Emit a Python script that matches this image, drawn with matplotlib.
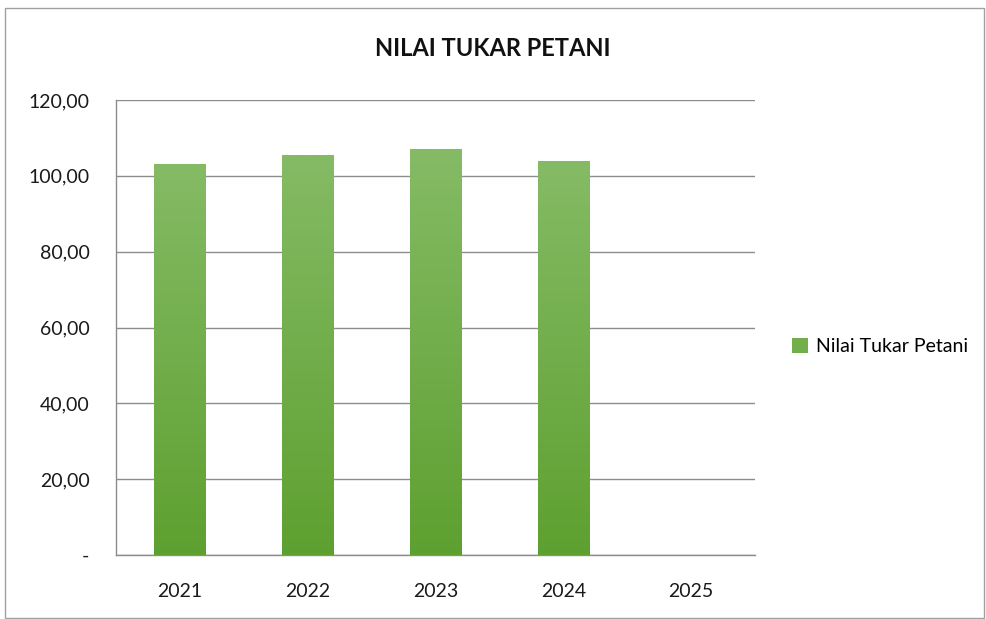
import matplotlib
matplotlib.use("Agg")
import matplotlib.pyplot as plt
import numpy as np
from matplotlib.patches import Rectangle, Patch

years = ["2021", "2022", "2023", "2024", "2025"]
values = [103.2, 105.5, 107.0, 104.0, np.nan]
series_name = "Nilai Tukar Petani"
title = "NILAI TUKAR PETANI"
yticks = [0, 20, 40, 60, 80, 100, 120]

plt.rcParams['font.family'] = ['Lato', 'DejaVu Sans']

fig = plt.figure(figsize=(9.86, 6.19), dpi=100)
fig.patches.append(Rectangle((0.005, 0.002), 0.993, 0.985, transform=fig.transFigure,
                             fill=False, edgecolor="#a0a0a0", linewidth=1.0))
ax = fig.add_axes([0.1176, 0.1034, 0.648, 0.735])

x = np.arange(len(years))
width = 0.4
top_c = np.array([0x85, 0xBB, 0x65]) / 255
bot_c = np.array([0x5E, 0xA0, 0x30]) / 255
grad = np.linspace(0, 1, 256)[:, None]
cmap = matplotlib.colors.LinearSegmentedColormap.from_list("g", [bot_c, top_c])
bars = ax.bar(x, np.nan_to_num(values), width, color="none", edgecolor="none", zorder=3)
for b, v in zip(bars, values):
    if np.isnan(v):
        continue
    x0, w, h = b.get_x(), b.get_width(), b.get_height()
    im = ax.imshow(grad, extent=[x0, x0 + w, 0, h], origin="lower", cmap=cmap,
                   aspect="auto", zorder=3)
    im.set_clip_path(b)

ax.set_xlim(-0.5, len(years) - 0.5)
ax.set_ylim(0, 120)
ax.set_yticks(yticks)
ax.set_yticklabels(["-" if t == 0 else f"{t},00" for t in yticks], fontsize=14, color="#1a1a1a")
ax.set_xticks(x)
ax.set_xticklabels(years, fontsize=14, color="#1a1a1a")
ax.tick_params(axis="both", length=0)
ax.tick_params(axis="y", pad=19)
ax.tick_params(axis="x", pad=20)
ax.grid(axis="y", color="#8c8c8c", linewidth=1.0, zorder=0)
ax.set_axisbelow(True)
for s in ["top", "right"]:
    ax.spines[s].set_visible(False)
for s in ["left", "bottom"]:
    ax.spines[s].set_color("#8c8c8c")
    ax.spines[s].set_linewidth(1.0)

fig.text(0.5, 0.922, title, ha="center", va="center", fontsize=17, fontweight="bold", color="#111111")

handle = Patch(facecolor=(top_c + bot_c) / 2, edgecolor="none")
fig.legend([handle], [series_name], loc="center left", bbox_to_anchor=(0.786, 0.44),
           frameon=False, fontsize=14, handlelength=0.8, handleheight=0.8, handletextpad=0.4)

fig.savefig("out.png", dpi=100)
